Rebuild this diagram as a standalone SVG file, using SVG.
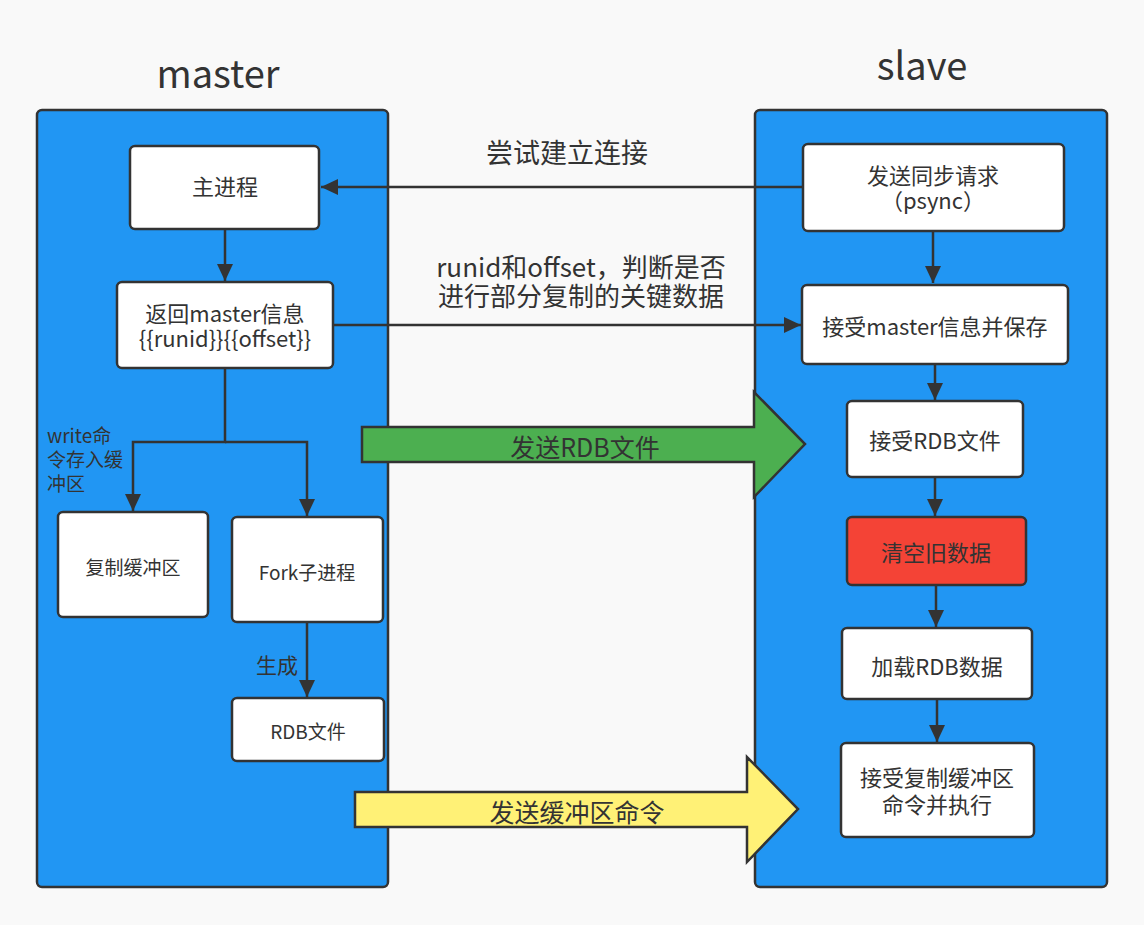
<svg xmlns="http://www.w3.org/2000/svg" width="1144" height="925" viewBox="0 0 1144 925">
<style>
.t{font-family:"Noto Sans CJK SC","Noto Sans",sans-serif;fill:#333;text-anchor:middle}
.cont{fill:#2196f3;stroke:#333;stroke-width:2.5}
.box{fill:#fff;stroke:#333;stroke-width:2.5}
.ln{fill:none;stroke:#333;stroke-width:2.5}
</style>
<defs>
<marker id="ah" markerUnits="userSpaceOnUse" markerWidth="18" markerHeight="16" refX="17" refY="8" orient="auto">
<path d="M0,0 L17,8 L0,16 Z" fill="#333"/>
</marker>
</defs>
<rect width="1144" height="925" fill="#f9f9f9"/>
<g id="master-container">
<rect class="cont" x="37" y="110" width="351" height="777" rx="5"/>
<text class="t" x="218" y="88" font-size="38">master</text>
</g>
<g id="slave-container">
<rect class="cont" x="755" y="110" width="352" height="777" rx="5"/>
<text class="t" x="922" y="80" font-size="38">slave</text>
</g>
<g id="connectors">
<path class="ln" d="M803,187 H321" marker-end="url(#ah)"/>
<path class="ln" d="M225,229 V281" marker-end="url(#ah)"/>
<path class="ln" d="M333,325 H801" marker-end="url(#ah)"/>
<path class="ln" d="M225,368 V442 H133 V511" marker-end="url(#ah)"/>
<path class="ln" d="M225,442 H307 V516" marker-end="url(#ah)"/>
<path class="ln" d="M307,622 V697" marker-end="url(#ah)"/>
<path class="ln" d="M933,231 V283" marker-end="url(#ah)"/>
<path class="ln" d="M935,364 V400" marker-end="url(#ah)"/>
<path class="ln" d="M935,477 V516" marker-end="url(#ah)"/>
<path class="ln" d="M936,585 V627" marker-end="url(#ah)"/>
<path class="ln" d="M937,699 V742" marker-end="url(#ah)"/>
<text class="t" x="567" y="163" font-size="27">尝试建立连接</text>
<text class="t" x="581" y="277" font-size="26">runid和offset，判断是否</text>
<text class="t" x="581" y="306" font-size="26">进行部分复制的关键数据</text>
<text class="t" x="47" y="443" font-size="19" style="text-anchor:start">write命</text>
<text class="t" x="47" y="467" font-size="19" style="text-anchor:start">令存入缓</text>
<text class="t" x="47" y="491" font-size="19" style="text-anchor:start">冲区</text>
<text class="t" x="277" y="673" font-size="21">生成</text>
</g>
<g id="n-main">
<rect class="box" x="130" y="146" width="189" height="83" rx="5"/>
<text class="t" x="225" y="195" font-size="22">主进程</text>
</g>
<g id="n-return">
<rect class="box" x="117" y="282" width="216" height="86" rx="5"/>
<text class="t" x="225" y="322" font-size="22">返回master信息</text>
<text class="t" x="225" y="347" font-size="22">{{runid}}{{offset}}</text>
</g>
<g id="n-replbuf">
<rect class="box" x="58" y="512" width="150" height="105" rx="5"/>
<text class="t" x="133" y="575" font-size="19">复制缓冲区</text>
</g>
<g id="n-fork">
<rect class="box" x="232" y="517" width="151" height="105" rx="5"/>
<text class="t" x="307" y="580" font-size="19">Fork子进程</text>
</g>
<g id="n-rdbfile">
<rect class="box" x="232" y="698" width="152" height="63" rx="5"/>
<text class="t" x="308" y="739" font-size="19">RDB文件</text>
</g>
<g id="n-psync">
<rect class="box" x="803" y="144" width="261" height="87" rx="5"/>
<text class="t" x="933" y="184" font-size="22">发送同步请求</text>
<text class="t" x="933" y="209" font-size="22">（psync）</text>
</g>
<g id="n-save">
<rect class="box" x="802" y="285" width="266" height="79" rx="5"/>
<text class="t" x="935" y="335" font-size="22">接受master信息并保存</text>
</g>
<g id="n-recvrdb">
<rect class="box" x="847" y="401" width="176" height="76" rx="5"/>
<text class="t" x="935" y="449" font-size="22">接受RDB文件</text>
</g>
<g id="n-clear">
<rect class="box" x="847" y="517" width="179" height="68" rx="5" style="fill:#f44336"/>
<text class="t" x="936" y="561" font-size="22">清空旧数据</text>
</g>
<g id="n-load">
<rect class="box" x="842" y="628" width="190" height="71" rx="5"/>
<text class="t" x="937" y="675" font-size="22">加载RDB数据</text>
</g>
<g id="n-exec">
<rect class="box" x="841" y="743" width="193" height="94" rx="5"/>
<text class="t" x="937" y="786" font-size="22">接受复制缓冲区</text>
<text class="t" x="937" y="813" font-size="22">命令并执行</text>
</g>
<g id="a-rdb">
<path d="M362,427 H754 V392 L805,444 L754,497 V462 H362 Z" fill="#4caf50" stroke="#333" stroke-width="2.5"/>
<text class="t" x="585" y="457" font-size="25">发送RDB文件</text>
</g>
<g id="a-buf">
<path d="M355,792 H747 V757 L798,809 L747,862 V827 H355 Z" fill="#fff176" stroke="#333" stroke-width="2.5"/>
<text class="t" x="577" y="822" font-size="25">发送缓冲区命令</text>
</g>
</svg>
